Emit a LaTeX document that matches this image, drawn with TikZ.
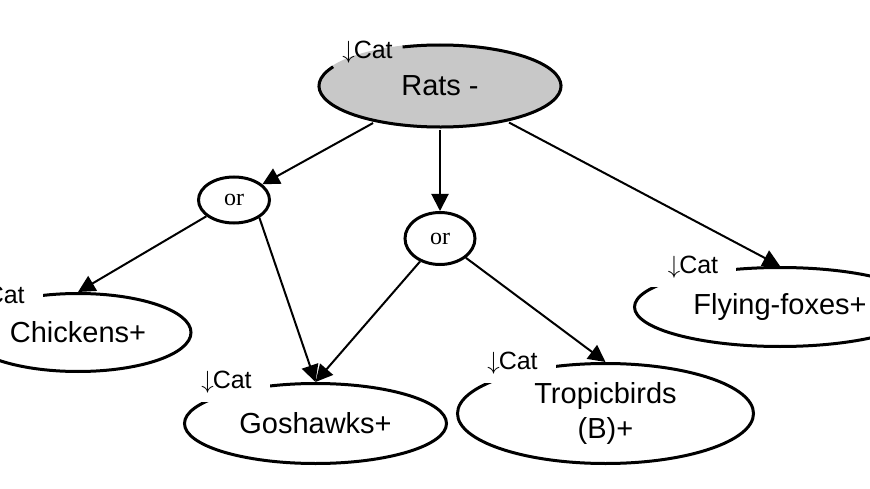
\documentclass[tikz,border=0pt]{standalone}
\usepackage{fontspec}
\setmainfont{Liberation Sans}
\newfontfamily\orfont{Liberation Serif}
\usepackage{tikz}
\usetikzlibrary{shapes.geometric, arrows.meta, positioning}

\definecolor{ratsgray}{RGB}{200,200,200}
\newcommand{\catdown}{$\downarrow$\kern-1pt Cat}

\tikzset{
    species/.style={ellipse, draw, line width=3pt, fill=white, inner sep=1pt, align=center, font=\fontsize{29}{35}\selectfont},
    ornode/.style={ellipse, draw, line width=3pt, fill=white, inner sep=0pt, font=\orfont\fontsize{24}{28}\selectfont},
    catlbl/.style={fill=white, inner xsep=18pt, inner ysep=0pt, minimum height=40pt, font=\fontsize{25}{28}\selectfont},
    link/.style={-{Triangle[length=17pt,width=17pt]}, line width=2pt}
}

\begin{document}
\begin{tikzpicture}[x=1pt, y=-1pt]
    \useasboundingbox (0,0) rectangle (870,489);

    % species
    \node[species, draw=none, fill=ratsgray, minimum width=245pt, minimum height=85pt] (rats) at (440,86) {Rats -};
    \draw[line width=3pt] ([shift={(152:121pt and 41pt)}]rats.center) arc[start angle=152, end angle=468, x radius=121pt, y radius=41pt];
    \node[species, minimum width=226pt, minimum height=78pt] (chick) at (78,332.5) {Chickens+};
    \node[species, minimum width=262pt, minimum height=80pt] (gos) at (315.5,423.5) {Goshawks+};
    \node[species, minimum width=296pt, minimum height=100pt] (trop) at (605.5,413.5) {Tropicbirds\\(B)+};
    \node[species, minimum width=291pt, minimum height=79pt] (fly) at (780,307) {Flying-foxes+};

    % or nodes
    \node[ornode, minimum width=71pt, minimum height=46pt] (or1) at (234,200) {or};
    \node[ornode, minimum width=70pt, minimum height=52pt] (or2) at (440,238.5) {or};

    % cat labels
    \node[catlbl, fill=none] (catrats) at (367.5,52) {\catdown};
    \node[catlbl] (catchick) at (-0.5,297) {\catdown};
    \node[catlbl] (catgos) at (226.5,382) {\catdown};
    \node[catlbl] (cattrop) at (512.5,363) {\catdown};
    \node[catlbl] (catfly) at (693,267) {\catdown};

    % links
    \draw[link] (rats) -- (or1);
    \draw[link] (rats) -- (or2);
    \draw[link] (rats) -- (fly.north);
    \draw[link] (or1) -- (chick.north);
    \draw[link] (or1.-35) -- (gos.north);
    \draw[link] (or2) -- (gos.north);
    \draw[link] (or2) -- (trop.north);
\end{tikzpicture}
\end{document}
